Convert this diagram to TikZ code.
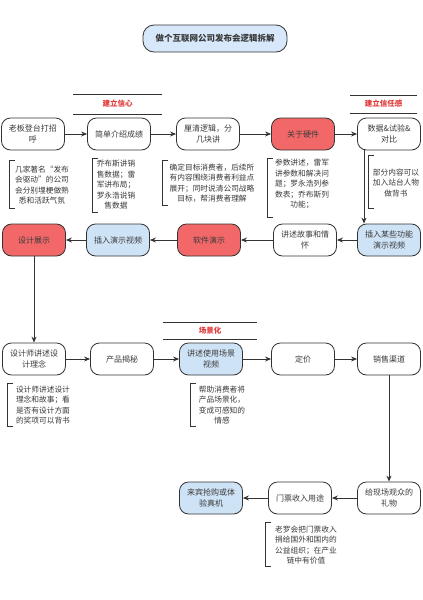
\documentclass[tikz,border=0pt]{standalone}
\usepackage{fontspec}
\setmainfont{Noto Sans CJK SC}
\usetikzlibrary{arrows.meta}
\definecolor{linec}{HTML}{333333}
\definecolor{txt}{HTML}{3A3A3A}
\definecolor{redf}{HTML}{F26868}
\definecolor{bluef}{HTML}{CFE3F7}
\definecolor{titlef}{HTML}{D6E8FA}
\definecolor{redt}{HTML}{E03A3A}
\begin{document}
\begin{tikzpicture}[x=1pt,y=-1pt,
 box/.style={draw=linec, line width=0.8pt, rounded corners=9pt, minimum width=63pt, minimum height=32pt, align=center, font=\fontsize{8}{10.5}\selectfont, text=txt, inner sep=1pt, fill=white},
 redbox/.style={box, fill=redf},
 bluebox/.style={box, fill=bluef},
 titlebox/.style={draw=linec, line width=0.8pt, rounded corners=11pt, minimum width=144pt, minimum height=27pt, fill=titlef, text=txt, font=\fontsize{8.5}{10}\selectfont\bfseries},
 note/.style={align=center, font=\fontsize{7.7}{10.5}\selectfont, text=txt, inner sep=0pt},
 arr/.style={draw=linec, line width=1pt, -{Stealth[length=6pt,width=5pt]}},
 brk/.style={draw=linec, line width=1pt},
 sep/.style={draw=linec, line width=1pt},
 sect/.style={font=\fontsize{7.5}{9}\selectfont\bfseries, text=redt}]
\useasboundingbox[fill=white] (0,0) rectangle (423,600);

% title
\node[titlebox] (ttl) at (215,38.5) {做个互联网公司发布会逻辑拆解};

% section labels
\draw[sep] (73,94) -- (162,94);
\draw[sep] (73,114) -- (162,114);
\node[sect] (s1) at (117.5,104) {建立信心};
\draw[sep] (350,95) -- (417,95);
\draw[sep] (350,113) -- (417,113);
\node[sect] (s2) at (383.5,104) {建立信任感};
\draw[sep] (163,322) -- (257,322);
\draw[sep] (163,339) -- (257,339);
\node[sect] (s3) at (210,331) {场景化};

% row 1
\node[box] (boss) at (33,134) {老板登台打招\\呼};
\node[box] (intro) at (119,134) {简单介绍成绩};
\node[box] (logic) at (208,134) {厘清逻辑，分\\几块讲};
\node[redbox] (hw) at (303,134) {关于硬件};
\node[box] (data) at (389,134) {数据\&试验\&\\对比};

% row 2
\node[redbox] (design) at (34,240) {设计展示};
\node[bluebox] (vid) at (118,240) {插入演示视频};
\node[redbox] (soft) at (209,240) {软件演示};
\node[box] (story) at (305,240) {讲述故事和情\\怀};
\node[bluebox] (fvid) at (389,240) {插入某些功能\\演示视频};

% row 3
\node[box] (design2) at (34,359) {设计师讲述设\\计理念};
\node[box] (reveal) at (122,359) {产品揭秘};
\node[bluebox] (scene) at (211,359) {讲述使用场景\\视频};
\node[box] (price) at (303,359) {定价};
\node[box] (channel) at (389,359) {销售渠道};

% row 4
\node[box] (gift) at (389,498) {给现场观众的\\礼物};
\node[box] (ticket) at (300,498) {门票收入用途};
\node[bluebox] (guest) at (211,498) {来宾抢购或体\\验真机};

% arrows
\draw[arr] (boss) -- (intro);
\draw[arr] (intro) -- (logic);
\draw[arr] (logic) -- (hw);
\draw[arr] (hw) -- (data);
\draw[arr] ([xshift=-25pt]data.south) -- ([xshift=-25pt]fvid.north);
\draw[arr] (fvid) -- (story);
\draw[arr] (story) -- (soft);
\draw[arr] (soft) -- (vid);
\draw[arr] (vid) -- (design);
\draw[arr] (design) -- (design2);
\draw[arr] (design2) -- (reveal);
\draw[arr] (reveal) -- (scene);
\draw[arr] (scene) -- (price);
\draw[arr] (price) -- (channel);
\draw[arr] (channel) -- (gift);
\draw[arr] (gift) -- (ticket);
\draw[arr] (ticket) -- (guest);

% notes with brackets
\draw[brk] (15,160) -- (9,160) -- (9,208) -- (15,208);
\node[note] (n1) at (42,185) {几家著名“发布\\会驱动”的公司\\会分别埋梗做熟\\悉和活跃气氛};

\draw[brk] (98,158) -- (92,158) -- (92,212) -- (98,212);
\node[note] (n2) at (116,185) {乔布斯讲销\\售数据；雷\\军讲布局；\\罗永浩说销\\售数据};

\draw[brk] (168,160) -- (162,160) -- (162,205) -- (168,205);
\node[note] (n3) at (212,183) {确定目标消费者，后续所\\有内容围绕消费者利益点\\展开；同时说清公司战略\\目标，帮消费者理解};

\draw[brk] (273,158) -- (267,158) -- (267,217) -- (273,217);
\node[note] (n4) at (302,184) {参数讲述，雷军\\讲参数和解决问\\题；罗永浩列参\\数表；乔布斯列\\功能；};

\draw[brk] (374,155) -- (368,155) -- (368,208) -- (374,208);
\node[note] (n5) at (396,183) {部分内容可以\\加入站台人物\\做背书};

\draw[brk] (13,383) -- (7,383) -- (7,426) -- (13,426);
\node[note] (n6) at (43,405) {设计师讲述设计\\理念和故事；看\\是否有设计方面\\的奖项可以背书};

\draw[brk] (196,383) -- (190,383) -- (190,426) -- (196,426);
\node[note] (n7) at (222,405) {帮助消费者将\\产品场景化，\\变成可感知的\\情感};

\draw[brk] (271,522) -- (265,522) -- (265,566) -- (271,566);
\node[note] (n8) at (306,545) {老罗会把门票收入\\捐给国外和国内的\\公益组织；在产业\\链中有价值};
\end{tikzpicture}
\end{document}
